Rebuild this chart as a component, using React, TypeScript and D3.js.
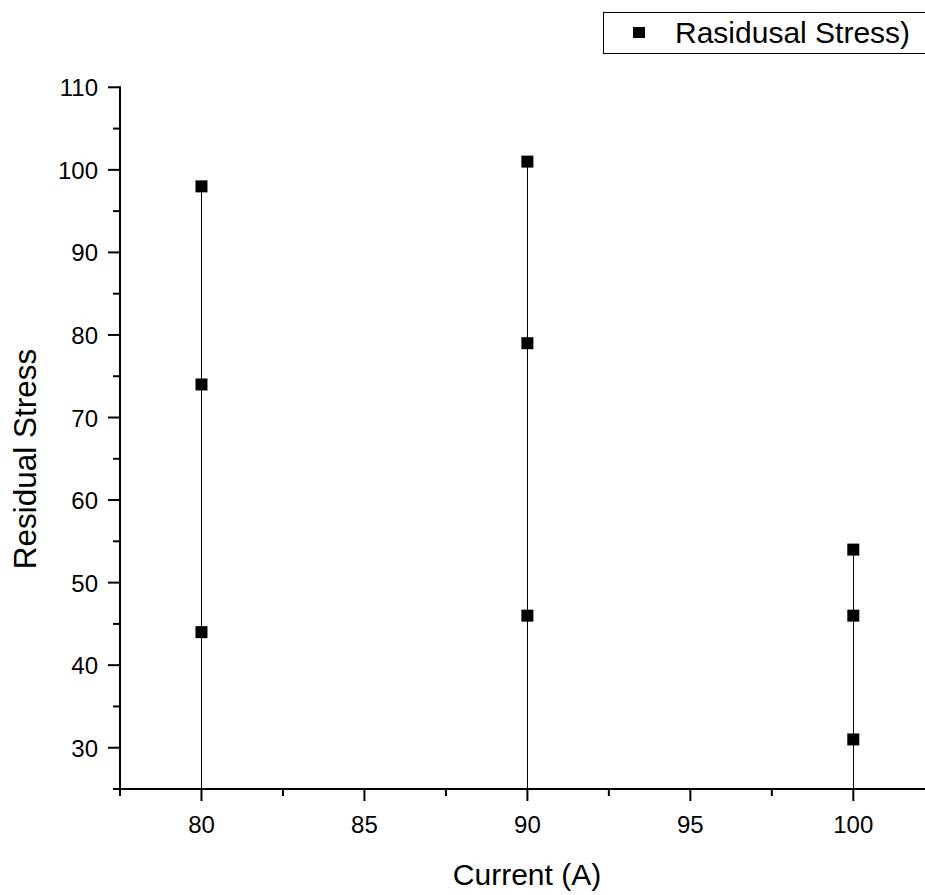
import React from "react";
import * as d3 from "d3";

const currents = [80, 80, 80, 90, 90, 90, 100, 100, 100];
const stresses = [98, 74, 44, 101, 79, 46, 54, 46, 31];
const xTicks = [80, 85, 90, 95, 100];
const xMinor = [77.5, 82.5, 87.5, 92.5, 97.5, 102.5];
const yTicks = [30, 40, 50, 60, 70, 80, 90, 100, 110];
const yMinor = [25, 35, 45, 55, 65, 75, 85, 95, 105];
const seriesName = "Rasidusal Stress)";

export default function App() {
  const W = 925, H = 895;
  const x = d3.scaleLinear().domain([77.5, 100]).range([120, 853.3]);
  const y = d3.scaleLinear().domain([25, 110]).range([789, 87.3]);
  const font = "Liberation Sans, Arial, sans-serif";
  const groups = Array.from(d3.group(currents.map((c, i) => ({ c, s: stresses[i] })), d => d.c));
  const ms = 12;
  return (
    <svg width={W} height={H} style={{ position: "absolute", left: 0, top: 0 }} fontFamily={font}>
      {/* drop lines */}
      {groups.map(([c, pts]) => (
        <line key={"l" + c} x1={Math.round(x(c)) + 0.5} x2={Math.round(x(c)) + 0.5}
          y1={y(d3.max(pts, d => d.s)!)} y2={y(25)} stroke="#000" strokeWidth={1} />
      ))}
      {/* axes */}
      <line x1={120} x2={925} y1={789} y2={789} stroke="#000" strokeWidth={2} />
      <line x1={120} x2={120} y1={86.3} y2={790} stroke="#000" strokeWidth={2} />
      {yTicks.map(t => (
        <g key={"yt" + t}>
          <line x1={108} x2={120} y1={y(t)} y2={y(t)} stroke="#000" strokeWidth={2} />
          <text x={98} y={y(t) + 9} textAnchor="end" fontSize={24}>{t}</text>
        </g>
      ))}
      {yMinor.map(t => (
        <line key={"ym" + t} x1={113} x2={120} y1={y(t)} y2={y(t)} stroke="#000" strokeWidth={2} />
      ))}
      {xTicks.map(t => (
        <g key={"xt" + t}>
          <line x1={x(t)} x2={x(t)} y1={789} y2={801} stroke="#000" strokeWidth={2} />
          <text x={x(t)} y={833} textAnchor="middle" fontSize={24}>{t}</text>
        </g>
      ))}
      {xMinor.map(t => (
        <line key={"xm" + t} x1={x(t)} x2={x(t)} y1={789} y2={796} stroke="#000" strokeWidth={2} />
      ))}
      {/* markers */}
      {currents.map((c, i) => (
        <rect key={"m" + i} x={x(c) - ms / 2} y={y(stresses[i]) - ms / 2} width={ms} height={ms} fill="#000" />
      ))}
      {/* axis titles */}
      <text x={527} y={885} textAnchor="middle" fontSize={30}>Current (A)</text>
      <text transform={`translate(36,459) rotate(-90)`} textAnchor="middle" fontSize={31.5}>Residual Stress</text>
      {/* legend */}
      <rect x={603.5} y={12.5} width={340} height={41} fill="#fff" stroke="#000" strokeWidth={1} />
      <rect x={633} y={27} width={12} height={11} fill="#000" />
      <text x={675} y={43} fontSize={30}>{seriesName}</text>
    </svg>
  );
}
